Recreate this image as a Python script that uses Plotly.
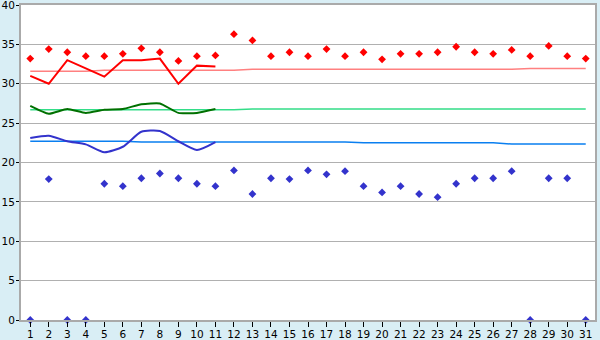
import plotly.graph_objects as go

days = list(range(1, 32))

max_temp = [33.2, 34.4, 34.0, 33.5, 33.5, 33.8, 34.5, 34.0, 32.9, 33.5,
            33.6, 36.3, 35.5, 33.5, 34.0, 33.5, 34.4, 33.5, 34.0, 33.1,
            33.8, 33.8, 34.0, 34.7, 34.0, 33.8, 34.3, 33.5, 34.8, 33.5, 33.2]
min_temp = [0, 17.9, 0, 0, 17.3, 17.0, 18.0, 18.6, 18.0, 17.3,
            17.0, 19.0, 16.0, 18.0, 17.9, 19.0, 18.5, 18.9, 17.0, 16.2,
            17.0, 16.0, 15.6, 17.3, 18.0, 18.0, 18.9, 0, 18.0, 18.0, 0]

days_line = list(range(1, 12))
max_line = [31.0, 30.0, 33.0, 32.0, 30.9, 33.0, 33.0, 33.2, 30.0, 32.3, 32.2]
mean_line = [27.2, 26.2, 26.8, 26.3, 26.7, 26.8, 27.4, 27.5, 26.3, 26.3, 26.8]
min_line = [23.1, 23.4, 22.7, 22.3, 21.3, 22.0, 23.9, 24.0, 22.7, 21.6, 22.6]

norm_max = [31.6] * 4 + [31.7] * 8 + [31.85] * 15 + [31.95] * 4
norm_mean = [26.7] * 12 + [26.8] * 19
norm_min = [22.7] * 6 + [22.6] * 12 + [22.5] * 8 + [22.35] * 5

y_ticks = [0, 5, 10, 15, 20, 25, 30, 35, 40]

fig = go.Figure()

fig.add_trace(go.Scatter(x=days, y=norm_max, mode="lines",
                         line=dict(color="#ff8080", width=1.5), hoverinfo="skip"))
fig.add_trace(go.Scatter(x=days, y=norm_mean, mode="lines",
                         line=dict(color="#33dd88", width=1.5), hoverinfo="skip"))
fig.add_trace(go.Scatter(x=days, y=norm_min, mode="lines",
                         line=dict(color="#0a7ff0", width=1.5), hoverinfo="skip"))

fig.add_trace(go.Scatter(x=days_line, y=max_line, mode="lines",
                         line=dict(color="#ff0000", width=2)))
fig.add_trace(go.Scatter(x=days_line, y=mean_line, mode="lines",
                         line=dict(color="#007000", width=2, shape="spline", smoothing=0.5)))
fig.add_trace(go.Scatter(x=days_line, y=min_line, mode="lines",
                         line=dict(color="#3333cc", width=2, shape="spline", smoothing=0.6)))

fig.add_trace(go.Scatter(x=days, y=max_temp, mode="markers",
                         marker=dict(symbol="diamond", size=6, color="#ff0000",
                                     line=dict(width=0)),
                         cliponaxis=False))
fig.add_trace(go.Scatter(x=days, y=min_temp, mode="markers",
                         marker=dict(symbol="diamond", size=6, color="#3333cc",
                                     line=dict(width=0)),
                         cliponaxis=False))

fig.update_layout(
    width=600, height=340,
    margin=dict(l=21, r=5, t=5, b=20, autoexpand=False),
    paper_bgcolor="#d9eef5",
    plot_bgcolor="#ffffff",
    showlegend=False,
    font=dict(family="DejaVu Sans", size=10, color="#000000"),
)
fig.update_xaxes(
    range=[0.5, 31.5], tickmode="array", tickvals=days,
    ticktext=[str(d) for d in days],
    ticks="outside", ticklen=5, tickcolor="#000000",
    ticklabelstandoff=-2, ticklabeloverflow="allow",
    showgrid=False, zeroline=False, automargin=False,
    showline=True, linecolor="#aaaaaa", linewidth=2, mirror=True,
    tickfont=dict(size=10.5), fixedrange=True,
)
fig.update_yaxes(
    range=[0, 40], tickmode="array", tickvals=y_ticks,
    ticktext=[str(v) for v in y_ticks],
    ticks="outside", ticklen=3, tickcolor="#000000",
    ticklabelstandoff=-1, ticklabeloverflow="allow",
    showgrid=True, gridcolor="#b0b0b0", gridwidth=1, zeroline=False,
    automargin=False,
    showline=True, linecolor="#aaaaaa", linewidth=2, mirror=True,
    tickfont=dict(size=10.5), fixedrange=True,
)

fig.write_html("out.html")
